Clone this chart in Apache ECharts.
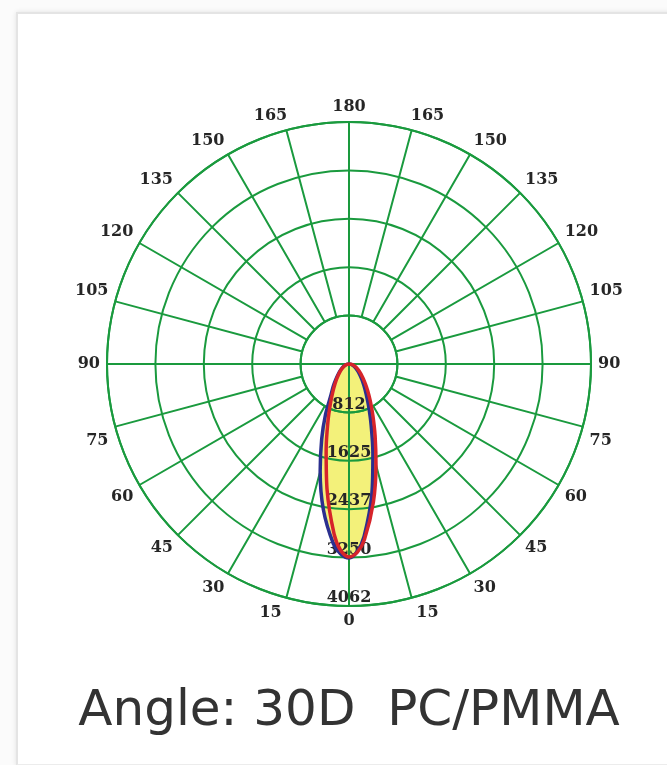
<!DOCTYPE html>
<html><head><meta charset="utf-8">
<script src="https://cdn.jsdelivr.net/npm/echarts@6/dist/echarts.min.js"></script>
<style>
html,body{margin:0;padding:0;background:#fbfbfb;}
#card{position:absolute;left:16px;top:12px;width:720px;height:750px;background:#fff;border-left:2px solid #e4e4e4;border-top:2px solid #e4e4e4;border-bottom:2px solid #ececec;box-shadow:0 0 5px rgba(0,0,0,0.10);}
#chart{position:absolute;left:0;top:0;width:667px;height:765px;}
</style></head><body>
<div id="card"></div>
<div id="chart"></div>
<script>
// gamma angles (deg from nadir); negative = right half, positive = left half
const gammaAngles = [-90,-80,-70,-60,-50,-40,-35,-30,-25,-20,-15,-10,-5,-2.5,0,2.5,5,10,15,20,25,30,35,40,50,60,70,80,90];
// red curve (C0-180 plane), cd
const planeC0 = [0,45,97,165,263,423,545,712,947,1281,1750,2355,2963,3166,3240,3138,2866,2127,1482,1035,741,545,411,316,194,120,71,33,0];
// blue curve (C90-270 plane), cd
const planeC90 = [0,36,76,128,205,335,432,572,778,1085,1550,2210,2905,3150,3257,3192,3025,2480,1870,1340,930,610,465,352,215,135,80,38,0];
// angle tick labels (mirrored) and intensity rings
const angleStep = 15;
const ringStep = 812.5;
const ringMax = 4062.5;
const ringLabels = ['812','1625','2437','3250','4062'];

const GREEN = '#1a9a3e';
const labelFont = {fontFamily:'DejaVu Serif', fontSize:16, fontWeight:'bold', color:'#262626'};
const toPts = vals => gammaAngles.map((g,i)=>[vals[i], g<0 ? g+360 : g]);

// angle label formatter: mirrored values, with small nudges outward via rich padding
function angleLabel(v){
  const shown = v>180 ? 360-v : v;
  const left = v>0 && v<180;
  if (shown===15 || shown===165) return left ? '{l|'+shown+'}' : '{r|'+shown+'}';
  if (shown===75) return '{d|'+shown+'}';
  if (shown===105) return '{u|'+shown+'}';
  return '{n|'+shown+'}';
}
const richBase = Object.assign({}, labelFont);
const rich = {
  n: Object.assign({}, richBase),
  l: Object.assign({padding:[0,28,0,0]}, richBase),
  r: Object.assign({padding:[0,0,0,28]}, richBase),
  d: Object.assign({padding:[24,0,0,0]}, richBase),
  u: Object.assign({padding:[0,0,18,0]}, richBase)
};

const chart = echarts.init(document.getElementById('chart'));
chart.setOption({
  animation:false,
  title:{
    text:'Angle: 30D  PC/PMMA', left:344, top:682, textAlign:'center',
    textStyle:{fontFamily:'DejaVu Sans', fontSize:50, fontWeight:'normal', color:'#333'}
  },
  polar:[
    {center:[349,364], radius:[0,242]},
    {center:[349,364], radius:[48.4,242]}
  ],
  angleAxis:[
    {polarIndex:0, type:'value', min:0, max:360, interval:90, startAngle:270, clockwise:true, z:3,
     axisLine:{show:false}, axisTick:{show:false}, axisLabel:{show:false},
     splitLine:{show:true, lineStyle:{color:GREEN, width:2}}},
    {polarIndex:1, type:'value', min:0, max:360, interval:angleStep, startAngle:270, clockwise:true, z:1,
     axisLine:{show:true, lineStyle:{color:GREEN, width:2}}, axisTick:{show:false},
     axisLabel:{show:true, margin:7, formatter:angleLabel, rich:rich},
     splitLine:{show:true, lineStyle:{color:GREEN, width:2}}}
  ],
  radiusAxis:[
    {polarIndex:0, type:'value', min:0, max:ringMax, interval:ringStep, z:3,
     axisLine:{show:false}, axisTick:{show:false},
     axisLabel:Object.assign({show:true, margin:0, rotate:0, align:'center', verticalAlign:'bottom',
       formatter:v=>{const k=Math.round(v/ringStep); return k>0 ? ringLabels[k-1] : '';}}, labelFont),
     splitLine:{show:true, lineStyle:{color:GREEN, width:2}}},
    {polarIndex:1, type:'value', min:0, max:ringMax, show:false}
  ],
  series:[
    {type:'line', coordinateSystem:'polar', polarIndex:0, data:toPts(planeC90), symbol:'none', smooth:0.3, z:1,
     lineStyle:{width:0}, areaStyle:{color:'#f3f17a', opacity:1}},
    {type:'line', coordinateSystem:'polar', polarIndex:0, data:toPts(planeC0), symbol:'none', smooth:0.3, z:1,
     lineStyle:{width:0}, areaStyle:{color:'#f3f17a', opacity:1}},
    {type:'line', coordinateSystem:'polar', polarIndex:0, data:toPts(planeC90), symbol:'none', smooth:0.3, z:5,
     lineStyle:{width:3.5, color:'#2b2f8f'}},
    {type:'line', coordinateSystem:'polar', polarIndex:0, data:toPts(planeC0), symbol:'none', smooth:0.3, z:6,
     lineStyle:{width:3.5, color:'#d6242a'}}
  ]
});
</script>
</body></html>
